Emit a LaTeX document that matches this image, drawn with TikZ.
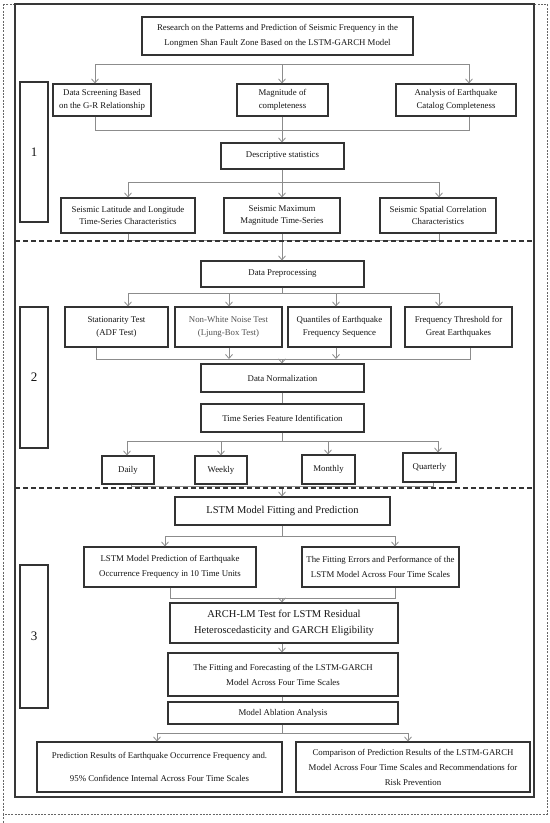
\documentclass[tikz,border=0pt]{standalone}
\usepackage{fontspec}
\setmainfont{Liberation Serif}
\usetikzlibrary{arrows.meta}
\tikzset{
  box/.style={draw=black!80, line width=1.1bp, align=center, inner sep=0pt, text=black!92,
    font={\fontsize{8.8bp}{12.5bp}\selectfont}},
  bigtext/.style={font={\fontsize{10.5bp}{16bp}\selectfont}},
  numbox/.style={draw=black!80, line width=1.1bp, inner sep=0pt, font={\fontsize{13bp}{14bp}\selectfont}},
  conn/.style={draw=black!45, line width=0.8bp},
  arr/.style={conn, -{Straight Barb[length=4bp,width=7bp]}},
  sep/.style={draw=black!80, line width=1.2bp, dash pattern=on 5bp off 3bp},
  outer/.style={draw=black!60, line width=0.8bp, dash pattern=on 2bp off 1.3bp},
}
\newcommand\mybox[7][]{%
  \node[box,#1, minimum width={(#5-#3)*1bp}, minimum height={(#6-#4)*1bp}]
    (#2) at ({(#3+#5)/2},{(#4+#6)/2}) {#7};}
\begin{document}
\begin{tikzpicture}[x=1bp,y=-1bp]
\useasboundingbox (0,0) rectangle (550,823);
% frames
\draw[outer] (3,4) rectangle (547,814);
\draw[outer] (3,814) -- (3,823);
\draw[draw=black!78, line width=1.1bp] (15,4) rectangle (534,797);

% ---------------- section 1
\mybox{title}{142}{17}{413}{55}{Research on the Patterns and Prediction of Seismic Frequency in the\\[3bp]Longmen Shan Fault Zone Based on the LSTM-GARCH Model}
\mybox{dsg}{53}{84}{151}{116}{Data Screening Based\\on the G-R Relationship}
\mybox{moc}{237}{84}{328}{116}{Magnitude of\\completeness}
\mybox{aec}{396}{84}{516}{116}{Analysis of Earthquake\\Catalog Completeness}
\mybox{desc}{221}{143}{344}{169}{Descriptive statistics}
\mybox{lat}{61}{198}{195}{233}{Seismic Latitude and Longitude\\Time-Series Characteristics}
\mybox{mag}{224}{198}{340}{233}{Seismic Maximum\\Magnitude Time-Series}
\mybox{spa}{380}{198}{496}{233}{Seismic Spatial Correlation\\Characteristics}
\mybox[numbox]{num1}{20}{82}{48}{222}{1}

\coordinate (h1c) at (282,64);
\coordinate (h1l) at (95,64);
\coordinate (h1r) at (469,64);
\draw[conn] (title.south |- h1c) -- (h1c);
\draw[conn] (h1l) -- (h1r);
\draw[arr] (h1l) -- (h1l |- dsg.north);
\draw[arr] (h1c) -- (h1c |- moc.north);
\draw[arr] (h1r) -- (h1r |- aec.north);

\coordinate (h2c) at (282,130);
\coordinate (h2l) at (95,130);
\coordinate (h2r) at (469,130);
\draw[conn] (h2l |- dsg.south) -- (h2l) -- (h2r) -- (h2r |- aec.south);
\draw[conn] (h1c |- moc.south) -- (h2c);
\draw[arr] (h2c) -- (h2c |- desc.north);

\coordinate (h3c) at (282,182);
\coordinate (h3l) at (128,182);
\coordinate (h3r) at (439,182);
\draw[conn] (h3c |- desc.south) -- (h3c);
\draw[conn] (h3l) -- (h3r);
\draw[arr] (h3l) -- (h3l |- lat.north);
\draw[arr] (h3c) -- (h3c |- mag.north);
\draw[arr] (h3r) -- (h3r |- spa.north);

\coordinate (h4c) at (282,240);
\coordinate (h4l) at (128,240);
\coordinate (h4r) at (439,240);
\draw[conn] (h4l |- lat.south) -- (h4l) -- (h4r) -- (h4r |- spa.south);
\draw[conn] (h4c |- mag.south) -- (h4c);

% ---------------- section 2
\mybox{dp}{201}{261}{364}{287}{Data Preprocessing}
\mybox{st}{65}{307}{168}{347}{Stationarity Test\\(ADF Test)}
\mybox[text=black!68]{nw}{175}{307}{282}{347}{Non-White Noise Test\\(Ljung-Box Test)}
\mybox{qu}{288}{307}{391}{347}{Quantiles of Earthquake\\Frequency Sequence}
\mybox{ft}{405}{307}{512}{347}{Frequency Threshold for\\Great Earthquakes}
\mybox{dn}{201}{364}{364}{392}{Data Normalization}
\mybox{tsfi}{201}{404}{364}{432}{Time Series Feature Identification}
\mybox{daily}{102}{456}{154}{484}{Daily}
\mybox{weekly}{195}{456}{247}{484}{Weekly}
\mybox{monthly}{302}{455}{355}{484}{Monthly}
\mybox{quarterly}{403}{453}{456}{482}{Quarterly}
\mybox[numbox]{num2}{20}{307}{48}{448}{2}

\draw[arr] (h4c) -- (h4c |- dp.north);

\coordinate (h5c) at (282,293);
\coordinate (h5a) at (128,293);
\coordinate (h5b) at (229,293);
\coordinate (h5d) at (336,293);
\coordinate (h5e) at (439,293);
\draw[conn] (h5c |- dp.south) -- (h5c);
\draw[conn] (h5a) -- (h5e);
\draw[arr] (h5a) -- (h5a |- st.north);
\draw[arr] (h5b) -- (h5b |- nw.north);
\draw[arr] (h5d) -- (h5d |- qu.north);
\draw[arr] (h5e) -- (h5e |- ft.north);

\coordinate (h6c) at (282,359);
\coordinate (h6a) at (96,359);
\coordinate (h6b) at (229,359);
\coordinate (h6d) at (336,359);
\coordinate (h6e) at (470,359);
\draw[conn] (h6a |- st.south) -- (h6a) -- (h6e) -- (h6e |- ft.south);
\draw[arr] (h6b |- nw.south) -- (h6b);
\draw[arr] (h6d |- qu.south) -- (h6d);
\draw[arr] (h6c) -- (h6c |- dn.north);

\draw[conn] (h6c |- dn.south) -- (h6c |- tsfi.north);

\coordinate (h7c) at (282,441);
\coordinate (h7a) at (127,441);
\coordinate (h7b) at (221,441);
\coordinate (h7d) at (328,441);
\coordinate (h7e) at (438,441);
\draw[conn] (h7c |- tsfi.south) -- (h7c);
\draw[conn] (h7a) -- (h7e);
\draw[arr] (h7a) -- (h7a |- daily.north);
\draw[arr] (h7b) -- (h7b |- weekly.north);
\draw[arr] (h7d) -- (h7d |- monthly.north);
\draw[arr] (h7e) -- (h7e |- quarterly.north);

\coordinate (h8c) at (282,486);
\coordinate (h8a) at (131,486);
\coordinate (h8e) at (433,486);
\draw[conn] (h8a |- daily.south) -- (h8a) -- (h8e) -- (h8e |- quarterly.south);

% ---------------- section 3
\mybox[bigtext]{lstm}{175}{497}{390}{525}{LSTM Model Fitting and Prediction}
\mybox{lp}{84}{547}{256}{587}{LSTM Model Prediction of Earthquake\\[2bp]Occurrence Frequency in 10 Time Units}
\mybox{fe}{302}{547}{459}{587}{The Fitting Errors and Performance of the\\[2bp]LSTM Model Across Four Time Scales}
\mybox[bigtext]{arch}{170}{603}{398}{643}{ARCH-LM Test for LSTM Residual\\Heteroscedasticity and GARCH Eligibility}
\mybox[font={\fontsize{8.8bp}{15bp}\selectfont}]{fit}{168}{653}{398}{696}{The Fitting and Forecasting of the LSTM-GARCH\\Model Across Four Time Scales}
\mybox{abl}{168}{702}{398}{724}{Model Ablation Analysis}
\mybox[font={\fontsize{8.8bp}{23bp}\selectfont}]{pr}{37}{742}{282}{792}{Prediction Results of Earthquake Occurrence Frequency and.\\95\% Confidence Internal Across Four Time Scales}
\mybox[font={\fontsize{8.8bp}{15bp}\selectfont}]{cmp}{296}{742}{530}{792}{Comparison of Prediction Results of the LSTM-GARCH\\Model Across Four Time Scales and Recommendations for\\Risk Prevention}
\mybox[numbox]{num3}{20}{565}{48}{708}{3}

\draw[arr] (h8c) -- (h8c |- lstm.north);

\coordinate (h9c) at (282,536);
\coordinate (h9l) at (165,536);
\coordinate (h9r) at (395,536);
\draw[conn] (h9c |- lstm.south) -- (h9c);
\draw[conn] (h9l) -- (h9r);
\draw[arr] (h9l) -- (h9l |- lp.north);
\draw[arr] (h9r) -- (h9r |- fe.north);

\coordinate (h10c) at (282,598);
\coordinate (h10l) at (170,598);
\coordinate (h10r) at (395,598);
\draw[conn] (h10l |- lp.south) -- (h10l) -- (h10r) -- (h10r |- fe.south);
\draw[arr] (h10c) -- (h10c |- arch.north);

\draw[arr] (h10c |- arch.south) -- (h10c |- fit.north);
\draw[conn] (h10c |- fit.south) -- (h10c |- abl.north);

\coordinate (h11c) at (282,733);
\coordinate (h11l) at (157,733);
\coordinate (h11r) at (408,733);
\draw[conn] (h11c |- abl.south) -- (h11c);
\draw[conn] (h11l) -- (h11r);
\draw[arr] (h11l) -- (h11l |- pr.north);
\draw[arr] (h11r) -- (h11r |- cmp.north);

% separators
\draw[sep] (15,241) -- (534,241);
\draw[sep] (15,488) -- (534,488);
\end{tikzpicture}
\end{document}
